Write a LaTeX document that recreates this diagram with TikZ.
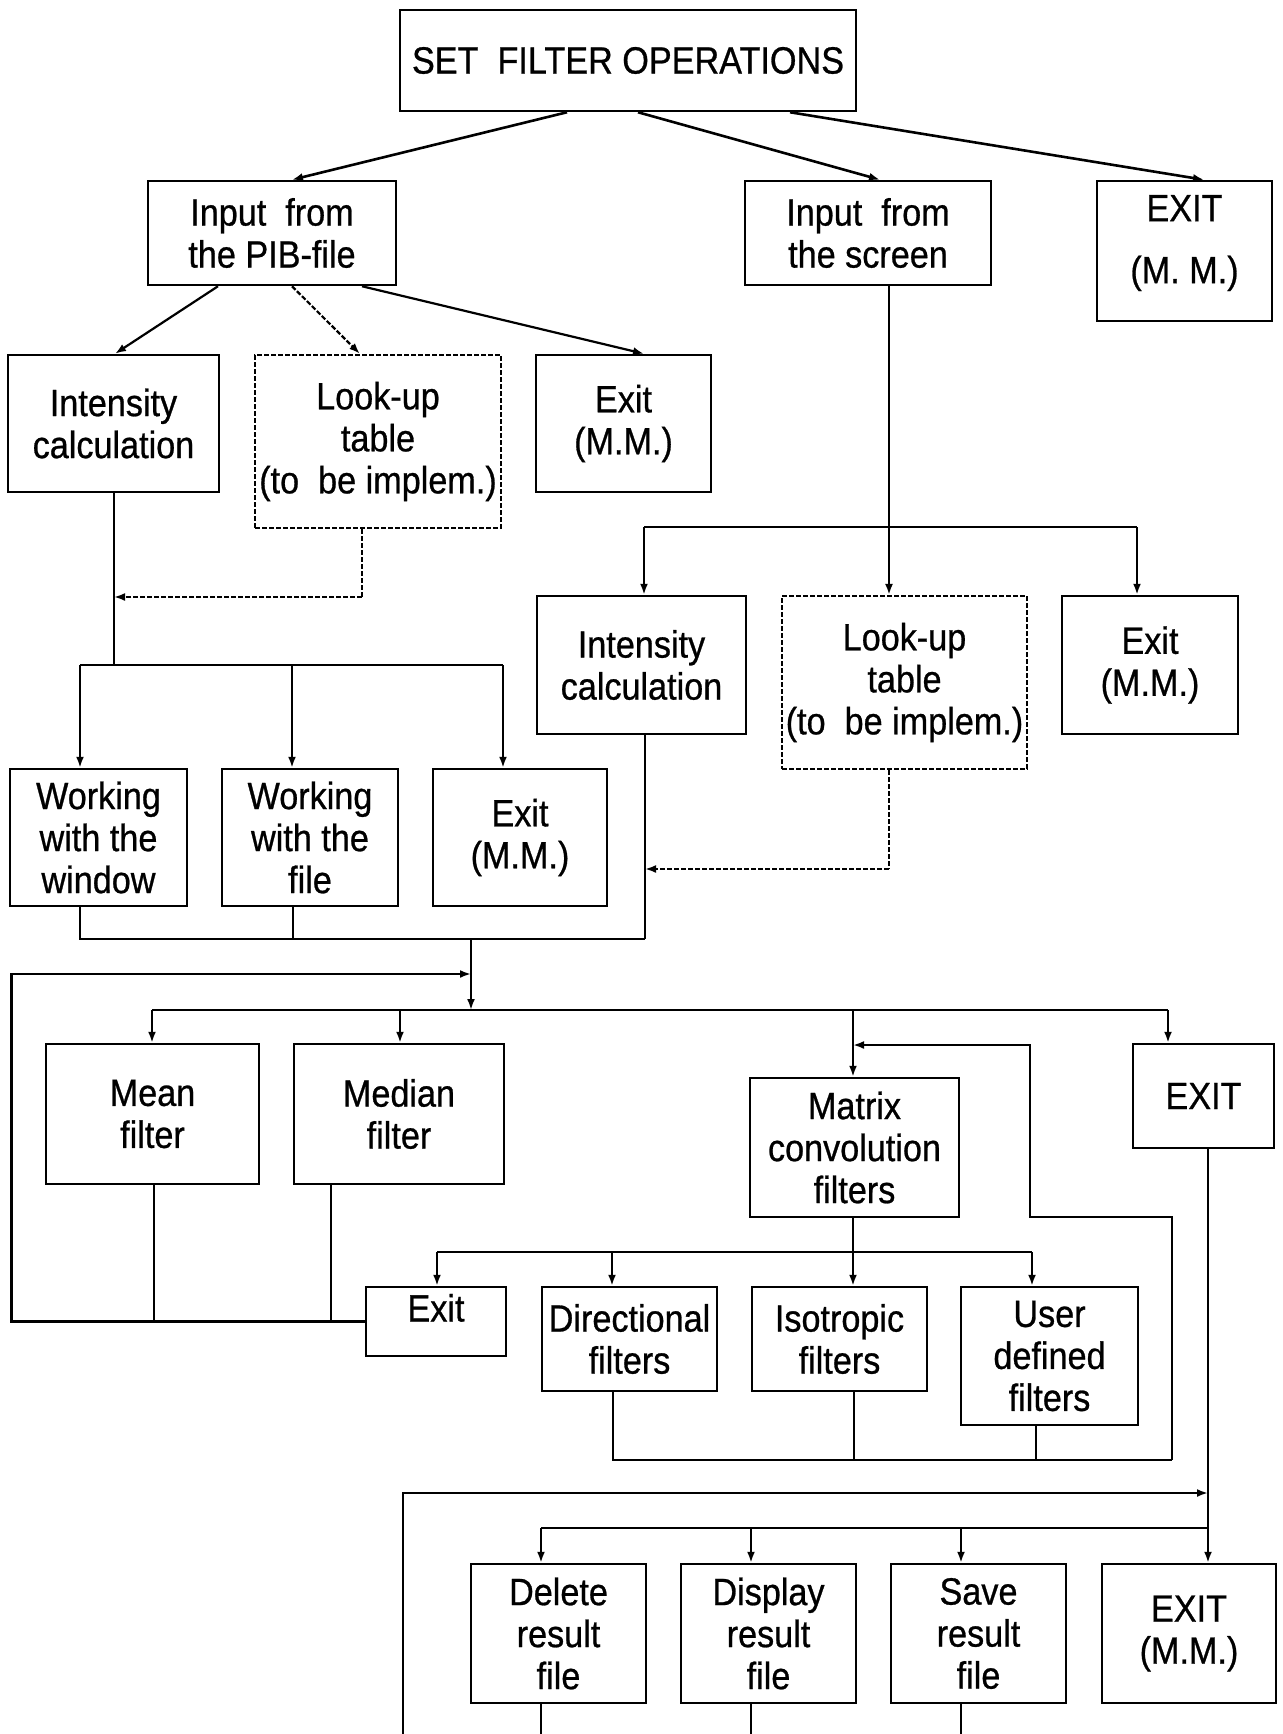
\documentclass[tikz,border=0pt]{standalone}
\usepackage{fontspec}
\setmainfont{Liberation Sans}[FakeStretch=0.9, FakeBold=0.7]
\usetikzlibrary{arrows.meta}
\begin{document}
\begin{tikzpicture}[x=1pt,y=-1pt,
  box/.style={draw, line width=2.5pt, inner sep=0pt, align=center,
    font=\fontsize{38}{42}\selectfont},
  dbox/.style={box, line width=2.2pt, dash pattern=on 5pt off 2pt},
  wire/.style={line width=2.2pt},
  dwire/.style={wire, dash pattern=on 5pt off 2pt},
  arr/.style={wire, -{Latex[length=11pt,width=8pt]}},
  darr/.style={dwire, -{Latex[length=11pt,width=8pt]}},
  toparr/.style={arr, line width=2.6pt},
]
\useasboundingbox (0,0) rectangle (1282,1734);

% ---------- boxes ----------
\node[box, minimum width=456pt, minimum height=101pt] (set) at (628,60.5) {SET\ \ FILTER OPERATIONS};

\node[box, minimum width=248pt, minimum height=104pt] (pib) at (272,233) {Input\ \ from\\the PIB-file};
\node[box, minimum width=246pt, minimum height=104pt] (scr) at (868,233) {Input\ \ from\\the screen};
\node[box, minimum width=175pt, minimum height=140pt] (exit0) at (1184.5,251)
  {\raisebox{1pt}[0pt][0pt]{\begin{tabular}{@{}c@{}}EXIT\\[20pt](M. M.)\end{tabular}}};

\node[box, minimum width=211pt, minimum height=137pt] (int1) at (113.5,423.5) {Intensity\\calculation};
\node[dbox, minimum width=246pt, minimum height=173pt] (look1) at (378,441.5) {Look-up\\table\\(to\ \ be implem.)};
\node[box, minimum width=175pt, minimum height=137pt] (ex1) at (623.5,423.5) {Exit\\(M.M.)};

\node[box, minimum width=209pt, minimum height=138pt] (int2) at (641.5,665) {Intensity\\calculation};
\node[dbox, minimum width=245pt, minimum height=173pt] (look2) at (904.5,682.5) {Look-up\\table\\(to\ \ be implem.)};
\node[box, minimum width=176pt, minimum height=138pt] (ex2) at (1150,665) {Exit\\(M.M.)};

\node[box, minimum width=177pt, minimum height=137pt] (win) at (98.5,837.5) {Working\\with the\\window};
\node[box, minimum width=176pt, minimum height=137pt] (fil) at (310,837.5) {Working\\with the\\file};
\node[box, minimum width=174pt, minimum height=137pt] (ex3) at (520,837.5) {Exit\\(M.M.)};

\node[box, minimum width=213pt, minimum height=140pt] (mean) at (152.5,1114) {Mean\\filter};
\node[box, minimum width=210pt, minimum height=140pt] (median) at (399,1114) {Median\\filter};
\node[box, minimum width=209pt, minimum height=139pt] (matrix) at (854.5,1147.5) {Matrix\\convolution\\filters};
\node[box, minimum width=141pt, minimum height=104pt] (exit4) at (1203.5,1096) {EXIT};

\node[box, minimum width=140pt, minimum height=69pt, text height=26pt, text depth=26pt] (exs) at (436,1321.5) {Exit};
\node[box, minimum width=175pt, minimum height=104pt] (dir) at (629.5,1339) {Directional\\filters};
\node[box, minimum width=175pt, minimum height=104pt] (iso) at (839.5,1339) {Isotropic\\filters};
\node[box, minimum width=177pt, minimum height=138pt] (user) at (1049.5,1356) {User\\defined\\filters};

\node[box, minimum width=175pt, minimum height=139pt] (del) at (558.5,1633.5) {Delete\\result\\file};
\node[box, minimum width=175pt, minimum height=139pt] (disp) at (768.5,1633.5) {Display\\result\\file};
\node[box, minimum width=175pt, minimum height=139pt] (save) at (978.5,1633.5) {Save\\result\\file};
\node[box, minimum width=174pt, minimum height=139pt] (exit5) at (1189,1633.5) {EXIT\\(M.M.)};

% ---------- main menu ----------
\draw[toparr] ([xshift=-61pt]set.south) -- ([xshift=20pt]pib.north);
\draw[toparr] ([xshift=10pt]set.south) -- ([xshift=12pt]scr.north);
\draw[toparr] ([xshift=162pt]set.south) -- ([xshift=19.5pt]exit0.north);

% ---------- input from the PIB-file ----------
\draw[arr] ([xshift=-54pt]pib.south) -- ([xshift=1.5pt]int1.north);
\draw[darr] ([xshift=20pt]pib.south) -- ([xshift=-18pt]look1.north);
\draw[arr] ([xshift=90pt]pib.south) -- ([xshift=20.5pt]ex1.north);

\coordinate (lA) at (114,597);
\coordinate (lB) at (362,597);
\draw[dwire] ([xshift=-16pt]look1.south) -- (lB);
\draw[darr] (lB) -- (lA);

\coordinate (wA) at (80,665);
\coordinate (wB) at (114,665);
\coordinate (wC) at (292,665);
\coordinate (wD) at (503,665);
\draw[wire] ([xshift=0.5pt]int1.south) -- (wB);
\draw[wire] (wA) -- (wD);
\draw[arr] (wA) -- ([xshift=-18.5pt]win.north);
\draw[arr] (wC) -- ([xshift=-18pt]fil.north);
\draw[arr] (wD) -- ([xshift=-17pt]ex3.north);

% ---------- input from the screen ----------
\coordinate (sA) at (644,527);
\coordinate (sB) at (889,527);
\coordinate (sC) at (1137,527);
\draw[wire] ([xshift=21pt]scr.south) -- (sB);
\draw[wire] (sA) -- (sC);
\draw[arr] (sA) -- ([xshift=2.5pt]int2.north);
\draw[arr] (sB) -- ([xshift=-15.5pt]look2.north);
\draw[arr] (sC) -- ([xshift=-13pt]ex2.north);

\coordinate (rA) at (889,869);
\coordinate (rB) at (645,869);
\draw[dwire] ([xshift=-15.5pt]look2.south) -- (rA);
\draw[darr] (rA) -- (rB);

% ---------- merge into the filter menu ----------
\coordinate (mA) at (80,939);
\coordinate (mB) at (293,939);
\coordinate (mC) at (645,939);
\coordinate (mJ) at (471,939);
\draw[wire] ([xshift=-18.5pt]win.south) -- (mA) -- (mC);
\draw[wire] ([xshift=-17pt]fil.south) -- (mB);
\draw[wire] ([xshift=3.5pt]int2.south) -- (mC);

\coordinate (fJ) at (471,1010);
\draw[arr] (mJ) -- (fJ);

% return loop from the small Exit
\coordinate (lp1) at (11.5,1321.5);
\coordinate (lp2) at (11.5,974);
\coordinate (lp3) at (471,974);
\draw[arr] (exs.west) -- (lp1) -- (lp2) -- (lp3);
\draw[wire] ([xshift=1.5pt]mean.south) -- ([xshift=1.5pt]mean.south |- exs.west);
\draw[wire] ([xshift=-68pt]median.south) -- ([xshift=-68pt]median.south |- exs.west);

% ---------- filter menu ----------
\coordinate (f1) at (152,1010);
\coordinate (f2) at (400,1010);
\coordinate (f3) at (853,1010);
\coordinate (f4) at (1168,1010);
\draw[wire] (f1) -- (f4);
\draw[arr] (f1) -- ([xshift=-0.5pt]mean.north);
\draw[arr] (f2) -- ([xshift=1pt]median.north);
\draw[arr] (f3) -- ([xshift=-1.5pt]matrix.north);
\draw[arr] (f4) -- ([xshift=-35.5pt]exit4.north);

% matrix convolution sub-menu
\coordinate (g1) at (437,1252);
\coordinate (g2) at (612,1252);
\coordinate (g3) at (853,1252);
\coordinate (g4) at (1032,1252);
\draw[wire] ([xshift=-1.5pt]matrix.south) -- (g3);
\draw[wire] (g1) -- (g4);
\draw[arr] (g1) -- ([xshift=1pt]exs.north);
\draw[arr] (g2) -- ([xshift=-17.5pt]dir.north);
\draw[arr] (g3) -- ([xshift=13.5pt]iso.north);
\draw[arr] (g4) -- ([xshift=-17.5pt]user.north);

\coordinate (h1) at (613,1460);
\coordinate (h2) at (854,1460);
\coordinate (h3) at (1036,1460);
\coordinate (h4) at (1172,1460);
\coordinate (h5) at (1172,1217);
\coordinate (h6) at (1030,1217);
\coordinate (h7) at (1030,1045);
\coordinate (h8) at (853,1045);
\draw[wire] ([xshift=-16.5pt]dir.south) -- (h1) -- (h4);
\draw[wire] ([xshift=14.5pt]iso.south) -- (h2);
\draw[wire] ([xshift=-13.5pt]user.south) -- (h3);
\draw[arr] (h4) -- (h5) -- (h6) -- (h7) -- (h8);

% ---------- result file menu ----------
\draw[arr] ([xshift=4.5pt]exit4.south) -- ([xshift=19pt]exit5.north);
\coordinate (k1) at (541,1528);
\coordinate (k2) at (751,1528);
\coordinate (k3) at (961,1528);
\coordinate (k4) at (1208,1528);
\draw[wire] (k1) -- (k4);
\draw[arr] (k1) -- ([xshift=-17.5pt]del.north);
\draw[arr] (k2) -- ([xshift=-17.5pt]disp.north);
\draw[arr] (k3) -- ([xshift=-17.5pt]save.north);

\coordinate (q0) at (403,1734);
\coordinate (q1) at (403,1493);
\coordinate (q2) at (1208,1493);
\draw[arr] (q0) -- (q1) -- (q2);

\coordinate (d1) at (541,1734);
\coordinate (d2) at (751,1734);
\coordinate (d3) at (961,1734);
\draw[wire] ([xshift=-17.5pt]del.south) -- (d1);
\draw[wire] ([xshift=-17.5pt]disp.south) -- (d2);
\draw[wire] ([xshift=-17.5pt]save.south) -- (d3);
\end{tikzpicture}
\end{document}
